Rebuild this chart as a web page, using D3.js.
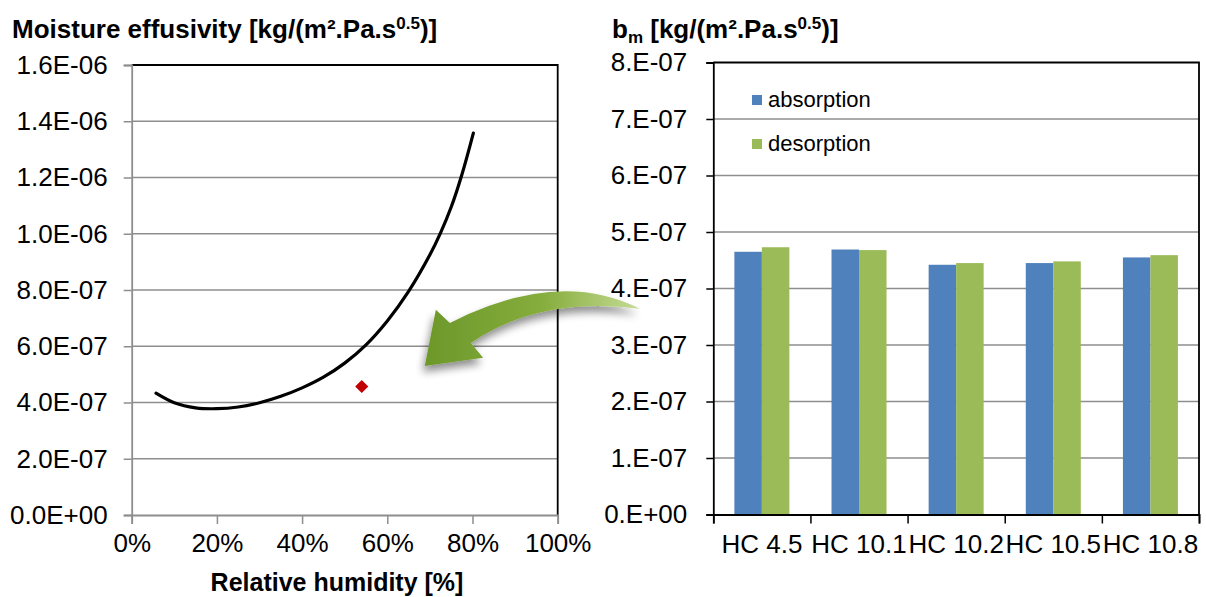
<!DOCTYPE html>
<html>
<head>
<meta charset="utf-8">
<script src="https://cdn.jsdelivr.net/npm/d3@7"></script>
<style>
    body { margin: 0; background: #fff; }
    svg text { font-family: "Liberation Sans", Arial, sans-serif; fill: #000; }
    .title { font-weight: bold; font-size: 26px; }
    .tick text { font-size: 26px; }
    .legend-text { font-size: 22px; }
</style>
</head>
<body>
<div id="chart"></div>
<script>
// ---- left chart: effusivity as a function of relative humidity
var rhCurve  = [5.7, 10, 15, 20, 25, 30, 35, 40, 45, 50, 55, 60, 65, 70, 72.5, 75, 77.5, 80.2];
var effCurve = [4.33e-7, 3.99e-7, 3.81e-7, 3.78e-7, 3.84e-7, 3.99e-7, 4.22e-7, 4.52e-7, 4.90e-7,
                5.40e-7, 6.05e-7, 6.90e-7, 7.95e-7, 9.25e-7, 1.003e-6, 1.095e-6, 1.21e-6, 1.358e-6];
var rhMeasured  = [54.0];
var effMeasured = [4.57e-7];
var leftYTicks = [0, 2e-7, 4e-7, 6e-7, 8e-7, 1e-6, 1.2e-6, 1.4e-6, 1.6e-6];
var leftYTickLabels = ["0.0E+00", "2.0E-07", "4.0E-07", "6.0E-07", "8.0E-07",
                       "1.0E-06", "1.2E-06", "1.4E-06", "1.6E-06"];
var leftXTicks = [0, 20, 40, 60, 80, 100];
var leftXTickLabels = ["0%", "20%", "40%", "60%", "80%", "100%"];

// ---- right chart: b_m per sample
var samples = ["HC 4.5", "HC 10.1", "HC 10.2", "HC 10.5", "HC 10.8"];
var seriesNames = ["absorption", "desorption"];
var absorption = [4.65e-7, 4.69e-7, 4.42e-7, 4.45e-7, 4.55e-7];
var desorption = [4.73e-7, 4.68e-7, 4.45e-7, 4.48e-7, 4.59e-7];
var rightYTicks = [0, 1e-7, 2e-7, 3e-7, 4e-7, 5e-7, 6e-7, 7e-7, 8e-7];
var rightYTickLabels = ["0.E+00", "1.E-07", "2.E-07", "3.E-07", "4.E-07",
                        "5.E-07", "6.E-07", "7.E-07", "8.E-07"];

// green arrow annotation, given in left chart units (RH %, effusivity)
var arrowRh  = [119.3, 100.3, 74.7, 71.4, 68.8, 82.5, 79.6, 95.8];
var arrowEff = [7.33e-7, 8.79e-7, 6.83e-7, 7.30e-7, 5.30e-7, 5.59e-7, 6.12e-7, 7.79e-7];

var width = 1206, height = 597;
var gridColor = "#8e8e8e";

var svg = d3.select("#chart").append("svg")
    .attr("width", width)
    .attr("height", height);

var defs = svg.append("defs");

var grad = defs.append("linearGradient")
    .attr("id", "arrowGrad")
    .attr("x1", "0%").attr("x2", "100%")
    .attr("y1", "0%").attr("y2", "0%");
grad.append("stop").attr("offset", "0%").attr("stop-color", "#6c982a");
grad.append("stop").attr("offset", "55%").attr("stop-color", "#86ad3d");
grad.append("stop").attr("offset", "100%").attr("stop-color", "#c6dc96");

var shadow = defs.append("filter")
    .attr("id", "arrowShadow")
    .attr("x", "-30%").attr("y", "-30%")
    .attr("width", "160%").attr("height", "180%");
shadow.append("feGaussianBlur").attr("in", "SourceAlpha").attr("stdDeviation", 4).attr("result", "blur");
shadow.append("feOffset").attr("in", "blur").attr("dx", -2).attr("dy", 6).attr("result", "off");
shadow.append("feComponentTransfer").attr("in", "off").attr("result", "soft")
    .append("feFuncA").attr("type", "linear").attr("slope", 0.45);
var merge = shadow.append("feMerge");
merge.append("feMergeNode").attr("in", "soft");
merge.append("feMergeNode").attr("in", "SourceGraphic");

/* ================= left chart ================= */
var L = {left: 131.7, right: 557.7, top: 65, bottom: 515};

var xL = d3.scaleLinear().domain([0, 100]).range([L.left, L.right]);
var yL = d3.scaleLinear().domain([0, 1.6e-6]).range([L.bottom, L.top]);

var left = svg.append("g");

// gridlines
left.append("g")
    .selectAll("line")
    .data(leftYTicks.slice(1, -1))
    .enter()
    .append("line")
    .attr("x1", L.left).attr("x2", L.right)
    .attr("y1", function(d) { return yL(d); })
    .attr("y2", function(d) { return yL(d); })
    .attr("stroke", gridColor)
    .attr("stroke-width", 1.5);

// top + right border are black
left.append("path")
    .attr("d", "M" + L.left + "," + L.top + "H" + L.right + "V" + L.bottom)
    .attr("fill", "none")
    .attr("stroke", "#000")
    .attr("stroke-width", 1.8);

var yAxisL = left.append("g")
    .attr("transform", "translate(" + L.left + ",0)")
    .call(d3.axisLeft(yL)
        .tickValues(leftYTicks)
        .tickFormat(function(d, i) { return leftYTickLabels[i]; })
        .tickSize(8)
        .tickPadding(16));

var xAxisL = left.append("g")
    .attr("transform", "translate(0," + L.bottom + ")")
    .call(d3.axisBottom(xL)
        .tickValues(leftXTicks)
        .tickFormat(function(d, i) { return leftXTickLabels[i]; })
        .tickSize(9)
        .tickPadding(10));

[yAxisL, xAxisL].forEach(function(ax) {
    ax.select(".domain").attr("stroke", gridColor).attr("stroke-width", 1.8);
    ax.selectAll(".tick line").attr("stroke", gridColor).attr("stroke-width", 1.5);
    ax.selectAll(".tick text").attr("fill", "#000");
});

// fitted curve
var curvePts = rhCurve.map(function(d, i) { return [d, effCurve[i]]; });
var line = d3.line()
    .x(function(d) { return xL(d[0]); })
    .y(function(d) { return yL(d[1]); })
    .curve(d3.curveCatmullRom.alpha(0.5));

left.append("path")
    .datum(curvePts)
    .attr("d", line)
    .attr("fill", "none")
    .attr("stroke", "#000")
    .attr("stroke-width", 3.2)
    .attr("stroke-linecap", "round");

// measured point (red diamond)
left.selectAll(".measured")
    .data(rhMeasured)
    .enter()
    .append("path")
    .attr("class", "measured")
    .attr("transform", function(d, i) {
        return "translate(" + xL(d) + "," + yL(effMeasured[i]) + ")";
    })
    .attr("d", d3.symbol().type(d3.symbolDiamond2).size(110))
    .attr("fill", "#c00000");

left.append("text")
    .attr("class", "title")
    .attr("x", 12)
    .attr("y", 38)
    .html('Moisture effusivity [kg/(m².Pa.s<tspan baseline-shift="super" font-size="17px">0.5</tspan>)]');

left.append("text")
    .attr("class", "title")
    .attr("x", 337)
    .attr("y", 591)
    .attr("text-anchor", "middle")
    .style("font-size", "25px")
    .text("Relative humidity [%]");

/* ================= right chart ================= */
var R = {left: 713.3, right: 1199, top: 62.5, bottom: 514.5};

var x0 = d3.scaleBand().domain(samples).range([R.left, R.right]);
var barW = 27.5;
var x1 = d3.scaleBand().domain(seriesNames).range([0, barW * 2]);
var yR = d3.scaleLinear().domain([0, 8e-7]).range([R.bottom, R.top]);
var colors = d3.scaleOrdinal().domain(seriesNames).range(["#4f81bd", "#9bbb59"]);

var right = svg.append("g");

right.append("g")
    .selectAll("line")
    .data(rightYTicks.slice(1, -1))
    .enter()
    .append("line")
    .attr("x1", R.left).attr("x2", R.right)
    .attr("y1", function(d) { return yR(d); })
    .attr("y2", function(d) { return yR(d); })
    .attr("stroke", gridColor)
    .attr("stroke-width", 1.5);

var rows = samples.map(function(s, i) {
    return {name: s, values: [
        {key: "absorption", value: absorption[i]},
        {key: "desorption", value: desorption[i]}
    ]};
});

var groups = right.selectAll(".group")
    .data(rows)
    .enter()
    .append("g")
    .attr("class", "group")
    .attr("transform", function(d) {
        return "translate(" + (x0(d.name) + (x0.bandwidth() - barW * 2) / 2) + ",0)";
    });

groups.selectAll("rect")
    .data(function(d) { return d.values; })
    .enter()
    .append("rect")
    .attr("x", function(d) { return x1(d.key); })
    .attr("width", x1.bandwidth())
    .attr("y", function(d) { return yR(d.value); })
    .attr("height", function(d) { return yR(0) - yR(d.value); })
    .attr("fill", function(d) { return colors(d.key); });

right.append("path")
    .attr("d", "M" + R.left + "," + R.top + "H" + R.right + "V" + R.bottom)
    .attr("fill", "none")
    .attr("stroke", "#000")
    .attr("stroke-width", 1.8);

var yAxisR = right.append("g")
    .attr("transform", "translate(" + R.left + ",0)")
    .call(d3.axisLeft(yR)
        .tickValues(rightYTicks)
        .tickFormat(function(d, i) { return rightYTickLabels[i]; })
        .tickSize(7)
        .tickPadding(19));

// category ticks sit on the band edges
var edges = d3.scaleLinear().domain([0, samples.length]).range([R.left, R.right]);
var xTicksR = right.append("g")
    .attr("transform", "translate(0," + R.bottom + ")")
    .call(d3.axisBottom(edges)
        .tickValues(d3.range(samples.length + 1))
        .tickFormat("")
        .tickSize(9));

var xAxisR = right.append("g")
    .attr("transform", "translate(0," + R.bottom + ")")
    .call(d3.axisBottom(x0).tickSize(0).tickPadding(20));
xAxisR.select(".domain").remove();

[yAxisR, xTicksR].forEach(function(ax) {
    ax.select(".domain").attr("stroke", "#000").attr("stroke-width", 1.8);
    ax.selectAll(".tick line").attr("stroke", "#000").attr("stroke-width", 1.5);
});
right.selectAll(".tick text").attr("fill", "#000");

// legend
var legend = right.selectAll(".legend")
    .data(seriesNames)
    .enter()
    .append("g")
    .attr("class", "legend")
    .attr("transform", function(d, i) { return "translate(752," + (95 + i * 44) + ")"; });

legend.append("rect")
    .attr("width", 10).attr("height", 10)
    .attr("fill", function(d) { return colors(d); });

legend.append("text")
    .attr("class", "legend-text")
    .attr("x", 16)
    .attr("y", 12)
    .text(function(d) { return d; });

right.append("text")
    .attr("class", "title")
    .attr("x", 612)
    .attr("y", 38)
    .html('b<tspan dy="5" font-size="17px">m</tspan><tspan dy="-5"> [kg/(m².Pa.s</tspan><tspan dy="-9" font-size="17px">0.5</tspan><tspan dy="9">)]</tspan>');

/* ================= arrow ================= */
var ap = arrowRh.map(function(d, i) { return [xL(d), yL(arrowEff[i])]; });
var arrowPath = d3.path();
arrowPath.moveTo(ap[0][0], ap[0][1]);
arrowPath.quadraticCurveTo(ap[1][0], ap[1][1], ap[2][0], ap[2][1]);
arrowPath.lineTo(ap[3][0], ap[3][1]);
arrowPath.lineTo(ap[4][0], ap[4][1]);
arrowPath.lineTo(ap[5][0], ap[5][1]);
arrowPath.lineTo(ap[6][0], ap[6][1]);
arrowPath.quadraticCurveTo(ap[7][0], ap[7][1], ap[0][0], ap[0][1]);
arrowPath.closePath();

svg.append("path")
    .attr("d", arrowPath.toString())
    .attr("fill", "url(#arrowGrad)")
    .attr("filter", "url(#arrowShadow)");
</script>
</body>
</html>
